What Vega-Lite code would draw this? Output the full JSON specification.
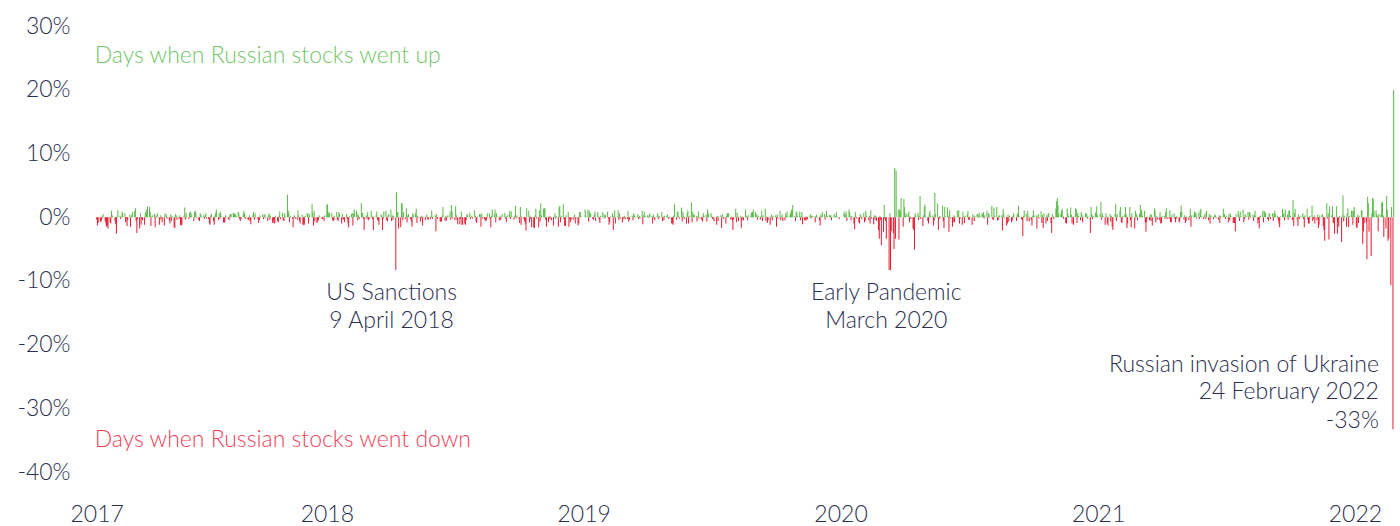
{
  "$schema": "https://vega.github.io/schema/vega-lite/v6.json",
  "width": 1330,
  "height": 446,
  "autosize": "none",
  "padding": {"left": 70, "top": 26, "right": 0, "bottom": 54},
  "background": "white",
  "config": {
    "view": {"stroke": null},
    "font": "Lato",
    "axis": {"grid": false, "domain": false, "ticks": false, "labelFont": "Lato", "labelFontWeight": 300, "labelColor": "#2c2f4f"},
    "axisX": {"labelFontSize": 23, "labelPadding": 49, "labelBaseline": "alphabetic", "labelFlush": true, "labelOverlap": false},
    "axisY": {"labelFontSize": 23, "labelPadding": 0}
  },
  "layer": [
    {
      "data": {
        "values": "d,v\n17063,-0.4\n17064,-1.3\n17065,-0.9\n17071,-0.6\n17072,-0.8\n17073,-0.5\n17074,0.2\n17075,0.5\n17081,-0.6\n17082,-1.0\n17083,-1.5\n17084,-1.3\n17085,-1.8\n17091,-0.8\n17092,-1.0\n17093,1.0\n17094,0.3\n17095,0.1\n17101,-0.6\n17102,-1.1\n17103,-2.6\n17104,0.2\n17105,1.1\n17111,0.2\n17112,-0.3\n17113,0.1\n17114,0.9\n17115,0.6\n17121,0.6\n17122,-0.8\n17123,-0.2\n17124,-1.4\n17125,-0.5\n17131,0.4\n17132,-1.5\n17133,0.1\n17134,0.4\n17135,0.8\n17141,1.0\n17142,1.4\n17143,-0.6\n17144,-2.5\n17145,-0.3\n17151,-1.8\n17152,0.6\n17153,-1.2\n17154,-0.2\n17155,-0.5\n17161,-1.2\n17162,0.6\n17163,0.9\n17164,1.2\n17165,1.7\n17171,1.6\n17172,0.8\n17173,-1.4\n17174,0.1\n17175,0.3\n17181,0.5\n17182,-1.6\n17183,0.3\n17184,-0.1\n17185,0.6\n17191,-1.2\n17192,-0.4\n17193,0.3\n17194,-0.2\n17195,-0.8\n17201,-1.3\n17202,0.6\n17203,0.1\n17204,0.4\n17205,-0.2\n17211,-0.5\n17212,-1.0\n17213,0.4\n17214,-0.6\n17215,0.2\n17221,-1.6\n17222,-1.7\n17223,0.5\n17224,0.3\n17225,-0.4\n17231,-0.3\n17232,0.3\n17233,-1.2\n17234,-1.3\n17235,-1.2\n17241,0.2\n17242,1.5\n17243,-0.4\n17244,0.7\n17245,0.1\n17251,-0.3\n17252,0.7\n17253,0.9\n17254,0.6\n17255,0.2\n17261,-0.6\n17262,0.9\n17263,1.0\n17264,0.6\n17265,-0.1\n17271,-0.4\n17272,-0.6\n17273,0.6\n17274,0.4\n17275,0.1\n17281,0.3\n17282,-0.3\n17283,0.3\n17284,0.6\n17285,-0.2\n17291,-0.3\n17292,-1.0\n17293,-1.2\n17294,0.3\n17295,0.5\n17301,-0.6\n17302,-1.2\n17303,0.3\n17304,0.7\n17305,1.2\n17311,-0.4\n17312,0.6\n17313,-0.3\n17314,0.9\n17315,0.2\n17321,-0.8\n17322,-0.9\n17323,-0.8\n17324,0.3\n17325,0.1\n17331,-0.3\n17332,-0.5\n17333,0.3\n17334,0.5\n17335,0.5\n17341,0.7\n17342,0.6\n17343,0.5\n17344,0.4\n17345,0.2\n17351,0.8\n17352,0.6\n17353,-0.3\n17354,-0.6\n17355,-0.3\n17361,0.4\n17362,1.0\n17363,0.6\n17364,-0.3\n17365,0.1\n17371,-0.4\n17372,-0.5\n17373,0.3\n17374,-0.6\n17375,-1.1\n17381,0.4\n17382,0.8\n17383,-0.4\n17384,0.6\n17385,0.1\n17391,-0.3\n17392,-0.9\n17393,-0.5\n17394,0.3\n17395,0.1\n17401,0.5\n17402,-0.3\n17403,0.3\n17404,0.5\n17405,-0.1\n17411,-0.6\n17412,0.3\n17413,0.6\n17414,-0.4\n17415,0.2\n17421,-0.9\n17422,-0.6\n17423,-0.9\n17424,-1.0\n17425,0.2\n17431,-0.6\n17432,-0.8\n17433,0.2\n17434,0.9\n17435,-0.3\n17441,0.7\n17442,-0.5\n17443,-0.6\n17444,0.6\n17445,0.1\n17451,3.5\n17452,0.6\n17453,1.0\n17454,-0.8\n17455,0.2\n17461,-0.2\n17462,-1.6\n17463,0.1\n17464,0.3\n17465,-0.3\n17471,-0.4\n17472,1.1\n17473,0.3\n17474,-0.6\n17475,-1.0\n17481,0.4\n17482,-1.2\n17483,-1.2\n17484,-1.2\n17485,0.2\n17491,0.6\n17492,0.6\n17493,-1.0\n17494,0.5\n17495,0.1\n17501,2.1\n17502,0.7\n17503,-1.3\n17504,1.0\n17505,-0.7\n17511,-0.9\n17512,-0.7\n17513,-0.5\n17514,0.3\n17515,0.1\n17521,-0.3\n17522,-0.3\n17523,0.1\n17524,-0.6\n17525,0.3\n18011,2.0\n18012,2.0\n18013,0.5\n18014,0.8\n18015,0.6\n18021,0.6\n18022,-0.4\n18023,-0.6\n18024,-0.5\n18025,0.2\n18031,0.8\n18032,-0.4\n18033,-0.6\n18034,0.8\n18035,0.5\n18041,-1.0\n18042,0.5\n18043,-0.4\n18044,-0.3\n18045,-0.8\n18051,0.5\n18052,-0.3\n18053,-1.0\n18054,-1.6\n18055,0.2\n18061,0.5\n18062,0.6\n18063,-1.3\n18064,0.6\n18065,1.2\n18071,1.0\n18072,0.6\n18073,-0.5\n18074,0.3\n18075,-0.3\n18081,2.2\n18082,0.7\n18083,0.7\n18084,-0.3\n18085,-2.0\n18091,0.3\n18092,-0.3\n18093,0.8\n18094,-0.5\n18095,-0.3\n18101,1.0\n18102,0.3\n18103,-0.3\n18104,-2.0\n18105,0.1\n18111,0.3\n18112,0.9\n18113,-0.4\n18114,-0.6\n18115,-1.2\n18121,0.4\n18122,0.3\n18123,-2.0\n18124,-0.3\n18125,0.9\n18131,1.0\n18132,-0.5\n18133,-0.7\n18134,0.3\n18135,0.5\n18141,1.2\n18142,-0.6\n18143,0.3\n18144,-0.4\n18145,0.2\n18151,-8.3\n18152,3.9\n18153,0.8\n18154,0.8\n18155,-1.8\n18161,-1.6\n18162,2.2\n18163,2.2\n18164,-0.5\n18165,0.8\n18171,-0.3\n18172,1.4\n18173,-0.8\n18174,0.3\n18175,0.5\n18181,-0.3\n18182,-0.7\n18183,-1.5\n18184,0.6\n18185,0.3\n18191,0.6\n18192,1.3\n18193,-0.9\n18194,0.2\n18195,-0.1\n18201,-0.7\n18202,0.2\n18203,-0.2\n18204,-1.3\n18205,0.1\n18211,-0.5\n18212,0.1\n18213,0.4\n18214,-0.2\n18215,-0.5\n18221,-0.3\n18222,0.2\n18223,1.1\n18224,-0.3\n18225,0.1\n18231,0.3\n18232,-2.2\n18233,0.5\n18234,-0.3\n18235,-0.1\n18241,-0.7\n18242,-0.7\n18243,-0.7\n18244,0.3\n18245,1.6\n18251,-0.6\n18252,0.2\n18253,-0.5\n18254,0.1\n18255,0.3\n18261,0.9\n18262,-0.4\n18263,1.9\n18264,0.9\n18265,-0.2\n18271,-0.5\n18272,1.7\n18273,0.3\n18274,-0.5\n18275,-1.1\n18281,-1.1\n18282,-0.3\n18283,0.9\n18284,-1.2\n18285,-1.2\n18291,-1.0\n18292,-1.2\n18293,-0.5\n18294,0.5\n18295,0.3\n18301,0.7\n18302,-0.3\n18303,0.1\n18304,0.2\n18305,-0.2\n18311,1.1\n18312,0.2\n18313,-0.7\n18314,-0.9\n18315,0.1\n18321,0.5\n18322,0.4\n18323,-1.5\n18324,0.6\n18325,-0.2\n18331,-0.3\n18332,-0.6\n18333,-0.5\n18334,-0.5\n18335,0.6\n18341,0.6\n18342,-0.3\n18343,-1.6\n18344,0.2\n18345,1.2\n18351,0.5\n18352,1.2\n18353,-0.8\n18354,0.6\n18355,0.1\n18361,-0.5\n18362,0.2\n18363,-0.5\n18364,-0.1\n18365,0.5\n18371,0.1\n18372,0.7\n18373,-0.2\n18374,-0.8\n18375,0.3\n18381,0.5\n18382,1.0\n18383,-0.3\n18384,0.9\n18385,0.1\n18391,-0.4\n18392,0.2\n18393,1.8\n18394,-0.2\n18395,0.3\n18401,-0.2\n18402,-0.9\n18403,1.6\n18404,-1.2\n18405,0.1\n18411,-0.3\n18412,-0.6\n18413,-1.0\n18414,-2.1\n18415,1.4\n18421,1.0\n18422,-0.8\n18423,0.2\n18424,-0.3\n18425,-1.6\n18431,-1.6\n18432,-1.7\n18433,0.3\n18434,1.3\n18435,-0.2\n18441,-1.6\n18442,1.1\n18443,-0.7\n18444,2.2\n18445,0.3\n18451,1.3\n18452,1.4\n18453,1.4\n18454,-0.4\n18455,-1.5\n18461,-0.8\n18462,0.2\n18463,-0.3\n18464,0.1\n18465,-0.5\n18471,-1.3\n18472,0.1\n18473,0.6\n18474,-0.2\n18475,0.2\n18481,-1.5\n18482,1.5\n18483,1.8\n18484,-0.8\n18485,0.2\n18491,2.0\n18492,-0.3\n18493,-1.4\n18494,-1.4\n18495,0.3\n18501,0.8\n18502,-1.5\n18503,-0.2\n18504,-0.8\n18505,-0.4\n18511,-0.4\n18512,0.1\n18513,0.4\n18514,-1.0\n18515,-0.2\n18521,-1.3\n18522,-1.0\n18523,0.8\n18524,0.8\n18525,0.2\n19004,1.2\n19005,0.3\n19011,1.2\n19012,-0.7\n19013,1.0\n19014,0.7\n19015,0.5\n19021,-0.3\n19022,-0.4\n19023,0.5\n19024,0.9\n19025,-0.6\n19031,0.8\n19032,0.1\n19033,-0.4\n19034,-0.9\n19035,0.2\n19041,0.8\n19042,0.1\n19043,0.5\n19044,-0.2\n19045,0.3\n19051,0.9\n19052,-0.2\n19053,-1.2\n19054,-0.8\n19055,0.1\n19061,0.6\n19062,-2.0\n19063,0.2\n19064,1.1\n19065,-1.0\n19071,0.1\n19072,1.1\n19073,-0.5\n19074,0.6\n19075,-0.2\n19081,-0.8\n19082,0.1\n19083,-0.3\n19084,0.2\n19085,-0.3\n19091,-0.3\n19092,1.0\n19093,-0.7\n19094,-0.4\n19095,0.1\n19101,0.2\n19102,-0.5\n19103,0.6\n19104,0.3\n19105,-0.1\n19111,0.1\n19112,0.5\n19113,-0.3\n19114,0.2\n19115,-0.2\n19121,1.0\n19122,-1.1\n19123,0.3\n19124,0.9\n19125,0.2\n19131,0.1\n19132,0.3\n19133,-0.1\n19134,0.3\n19135,0.6\n19141,0.2\n19142,-1.0\n19143,0.4\n19144,-0.1\n19145,-0.5\n19151,0.1\n19152,0.6\n19153,-0.3\n19154,0.2\n19155,-0.1\n19161,0.8\n19162,-0.6\n19163,0.1\n19164,-0.5\n19165,0.2\n19171,0.2\n19172,0.4\n19173,-0.1\n19174,-0.3\n19175,0.1\n19181,-1.0\n19182,-1.0\n19183,-1.2\n19184,0.2\n19185,2.1\n19191,-0.4\n19192,0.9\n19193,0.8\n19194,0.1\n19195,-0.2\n19201,1.5\n19202,-0.7\n19203,0.9\n19204,0.2\n19205,-0.3\n19211,-1.0\n19212,0.7\n19213,1.1\n19214,-1.0\n19215,0.2\n19221,2.3\n19222,-0.8\n19223,0.9\n19224,0.4\n19225,0.4\n19231,0.2\n19232,-0.7\n19233,0.1\n19234,0.9\n19235,-0.2\n19241,-0.4\n19242,0.1\n19243,-0.7\n19244,0.6\n19245,0.2\n19251,0.4\n19252,-0.7\n19253,1.2\n19254,0.6\n19255,0.1\n19261,0.6\n19262,0.2\n19263,-0.3\n19264,-0.1\n19265,-0.6\n19271,0.1\n19272,-1.2\n19273,0.2\n19274,-0.6\n19275,0.1\n19281,0.3\n19282,-1.7\n19283,0.5\n19284,0.1\n19285,-0.3\n19291,-1.0\n19292,0.2\n19293,0.6\n19294,0.6\n19295,0.6\n19301,-0.4\n19302,0.1\n19303,-0.4\n19304,-2.0\n19305,-0.4\n19311,1.3\n19312,-0.8\n19313,0.7\n19314,0.2\n19315,-0.6\n19321,0.2\n19322,-1.7\n19323,-0.5\n19324,0.1\n19325,-0.5\n19331,1.2\n19332,0.2\n19333,-0.1\n19334,-0.5\n19335,0.3\n19341,0.1\n19342,0.6\n19343,0.8\n19344,0.8\n19345,1.2\n19351,0.8\n19352,0.1\n19353,0.5\n19354,-0.4\n19355,0.2\n19361,-0.4\n19362,0.2\n19363,1.0\n19364,-0.6\n19365,0.3\n19371,1.3\n19372,-0.6\n19373,0.1\n19374,-0.9\n19375,-0.5\n19381,-1.2\n19382,0.1\n19383,0.4\n19384,-0.5\n19385,0.2\n19391,0.1\n19392,0.3\n19393,-1.5\n19394,0.4\n19395,-0.2\n19401,1.0\n19402,-0.5\n19403,0.1\n19404,0.4\n19405,-0.6\n19411,-0.5\n19412,0.6\n19413,0.2\n19414,0.9\n19415,0.1\n19421,0.3\n19422,0.7\n19423,1.1\n19424,1.2\n19425,1.9\n19431,0.2\n19432,-0.6\n19433,0.9\n19434,0.7\n19435,0.1\n19441,0.9\n19442,-0.5\n19443,0.2\n19444,0.8\n19445,-1.1\n19451,-0.5\n19452,-0.5\n19453,0.1\n19454,-0.5\n19455,-0.3\n19461,0.1\n19462,0.5\n19463,-0.2\n19464,0.2\n19465,0.2\n19471,0.1\n19472,-0.8\n19473,0.2\n19474,0.4\n19475,-0.1\n19481,-0.5\n19482,-1.3\n19483,0.4\n19484,0.1\n19485,0.8\n19491,0.5\n19492,-0.4\n19493,0.1\n19494,1.0\n19495,0.2\n19501,0.3\n19502,0.3\n19503,0.3\n19504,-0.5\n19505,0.1\n19511,0.5\n19512,0.2\n19513,-0.1\n19514,0.8\n19515,0.1\n19521,-0.3\n20011,0.9\n20012,0.5\n20013,0.3\n20014,0.9\n20015,-0.6\n20021,1.2\n20022,0.8\n20023,0.1\n20024,-0.5\n20025,0.2\n20031,-1.0\n20032,-1.9\n20033,0.8\n20034,0.1\n20035,-0.2\n20041,-0.8\n20042,-1.0\n20043,0.5\n20044,0.2\n20045,-0.3\n20051,0.7\n20052,-0.8\n20053,-0.6\n20054,1.0\n20055,0.2\n20061,-0.5\n20062,0.2\n20063,-1.0\n20064,1.1\n20065,-0.2\n20071,-1.1\n20072,0.3\n20073,-0.4\n20074,0.2\n20075,-0.6\n20081,-2.0\n20082,-3.4\n20083,0.2\n20084,-0.5\n20085,-4.4\n20091,-2.3\n20092,1.9\n20093,-0.3\n20094,-0.6\n20095,-3.4\n20102,-8.3\n20103,0.6\n20104,-8.3\n20105,-2.2\n20111,-2.5\n20112,-5.0\n20113,7.7\n20114,-3.4\n20115,7.3\n20121,1.2\n20122,-3.5\n20123,1.2\n20124,0.8\n20125,3.0\n20131,-1.5\n20132,2.9\n20133,1.6\n20134,0.2\n20135,0.6\n20141,0.5\n20142,0.9\n20143,-0.8\n20144,0.1\n20145,-0.3\n20151,-1.8\n20152,-2.0\n20153,-5.1\n20154,0.6\n20155,0.2\n20161,0.7\n20162,-0.5\n20163,0.2\n20164,3.3\n20165,-0.3\n20171,-1.4\n20172,0.3\n20173,1.6\n20174,2.0\n20175,0.1\n20181,-0.6\n20182,-1.0\n20183,0.6\n20184,1.0\n20185,0.2\n20191,0.3\n20192,-1.3\n20193,-0.6\n20194,3.8\n20195,0.5\n20201,2.1\n20202,-2.0\n20203,-0.3\n20204,0.2\n20205,-0.1\n20211,1.8\n20212,-0.6\n20213,-1.7\n20214,1.6\n20215,0.1\n20221,1.5\n20222,0.2\n20223,-2.3\n20224,1.1\n20225,-0.2\n20231,-1.5\n20232,-0.8\n20233,0.3\n20234,-0.8\n20235,0.1\n20241,1.0\n20242,0.2\n20243,1.1\n20244,-1.0\n20245,-0.2\n20251,-1.2\n20252,0.9\n20253,0.1\n20254,-0.9\n20255,0.2\n20261,0.4\n20262,1.0\n20263,-0.4\n20264,-0.4\n20265,0.1\n20271,-1.2\n20272,0.5\n20273,0.1\n20274,-0.6\n20275,0.2\n20281,0.5\n20282,0.5\n20283,-0.1\n20284,0.7\n20285,0.2\n20291,0.6\n20292,0.5\n20293,0.8\n20294,-0.2\n20295,0.3\n20301,1.0\n20302,-1.2\n20303,0.6\n20304,0.5\n20305,-0.1\n20311,1.8\n20312,-0.3\n20313,-0.5\n20314,1.5\n20315,0.2\n20321,1.6\n20322,-0.5\n20323,-0.5\n20324,0.2\n20325,0.3\n20331,0.3\n20332,-2.1\n20333,1.3\n20334,0.6\n20335,-0.1\n20341,-1.3\n20342,-1.0\n20343,0.4\n20344,-0.7\n20345,0.2\n20351,-0.8\n20352,-0.5\n20353,0.2\n20354,0.6\n20355,-0.1\n20361,-0.6\n20362,0.5\n20363,0.6\n20364,1.8\n20365,0.1\n20371,-0.3\n20372,-0.5\n20373,-3.0\n20374,0.2\n20375,1.1\n20381,0.5\n20382,-0.6\n20383,1.0\n20384,0.1\n20385,-0.7\n20391,-0.4\n20392,-1.3\n20393,0.2\n20394,1.1\n20395,0.3\n20401,0.3\n20402,-1.8\n20403,0.1\n20404,0.5\n20405,-0.2\n20411,0.9\n20412,-0.9\n20413,0.3\n20414,-1.7\n20415,0.6\n20421,-1.0\n20422,0.3\n20423,-0.6\n20424,0.6\n20425,0.6\n20431,-0.9\n20432,-2.5\n20433,0.5\n20434,0.1\n20435,-0.3\n20441,1.4\n20442,2.5\n20443,3.0\n20444,1.9\n20445,0.6\n20451,0.5\n20452,1.0\n20453,1.3\n20454,0.2\n20455,-0.3\n20461,-0.9\n20462,-1.0\n20463,1.4\n20464,0.6\n20465,0.2\n20471,1.5\n20472,0.4\n20473,-1.0\n20474,0.1\n20475,-1.2\n20481,1.4\n20482,1.2\n20483,-0.9\n20484,0.7\n20485,0.2\n20491,-0.5\n20492,0.8\n20493,0.5\n20494,-0.8\n20495,0.1\n20501,0.6\n20502,0.6\n20503,0.4\n20504,-0.2\n20505,0.1\n20511,-2.5\n20512,1.6\n20513,0.5\n20514,-0.3\n20515,0.2\n20521,0.6\n20522,0.8\n20523,1.7\n20524,0.3\n21011,0.5\n21012,2.4\n21013,-0.4\n21014,0.6\n21015,0.2\n21021,-1.2\n21022,0.6\n21023,0.1\n21024,-1.0\n21025,-1.3\n21031,0.5\n21032,-0.7\n21033,0.2\n21034,-1.5\n21035,-2.0\n21041,0.5\n21042,2.1\n21043,-0.6\n21044,0.5\n21045,0.1\n21051,1.0\n21052,1.6\n21053,-0.8\n21054,-0.9\n21055,0.2\n21061,0.4\n21062,1.6\n21063,0.4\n21064,-1.7\n21065,-1.0\n21071,1.6\n21072,-0.5\n21073,-1.6\n21074,0.6\n21075,0.1\n21081,-1.8\n21082,1.0\n21083,0.6\n21084,0.3\n21085,-0.5\n21091,0.5\n21092,1.9\n21093,0.9\n21094,1.2\n21095,0.2\n21101,1.0\n21102,-0.8\n21103,-2.3\n21104,-0.8\n21105,0.1\n21111,-0.5\n21112,0.4\n21113,-0.6\n21114,0.4\n21115,-1.3\n21121,1.4\n21122,1.0\n21123,-0.8\n21124,0.1\n21125,-0.4\n21131,-0.5\n21132,0.8\n21133,-1.0\n21134,-0.9\n21135,0.2\n21141,0.2\n21142,-0.3\n21143,0.8\n21144,1.4\n21145,-0.3\n21151,-0.3\n21152,1.1\n21153,-0.8\n21154,-0.8\n21155,0.4\n21161,0.6\n21162,-0.3\n21163,-0.8\n21164,-0.3\n21165,0.2\n21171,-0.8\n21172,-0.7\n21173,0.8\n21174,1.8\n21175,0.8\n21181,-0.4\n21182,0.3\n21183,-0.9\n21184,-0.6\n21185,0.1\n21191,-0.5\n21192,0.2\n21193,1.3\n21194,-1.5\n21195,0.3\n21201,0.3\n21202,0.9\n21203,0.7\n21204,0.7\n21205,-0.2\n21211,0.7\n21212,-0.3\n21213,1.1\n21214,1.3\n21215,0.1\n21221,-0.3\n21222,0.3\n21223,0.6\n21224,-0.3\n21225,1.0\n21231,-0.5\n21232,0.5\n21233,-1.0\n21234,0.3\n21235,0.1\n21241,-0.3\n21242,0.2\n21243,0.4\n21244,0.3\n21245,-0.1\n21251,-0.4\n21252,0.3\n21253,-0.9\n21254,0.2\n21255,0.1\n21261,1.3\n21262,0.5\n21263,0.4\n21264,-0.3\n21265,0.2\n21271,-0.8\n21272,0.6\n21273,-0.5\n21274,0.5\n21275,0.1\n21281,-0.9\n21282,-0.9\n21283,-0.9\n21284,-2.2\n21285,0.5\n21291,1.0\n21292,0.4\n21293,-0.6\n21294,0.9\n21295,0.1\n21301,1.2\n21302,-0.8\n21303,-0.3\n21304,0.5\n21305,0.2\n21311,0.8\n21312,-0.4\n21313,0.8\n21314,0.6\n21315,-0.1\n21321,0.4\n21322,-0.6\n21323,0.3\n21324,1.0\n21325,0.2\n21331,-1.0\n21332,-0.4\n21333,-1.8\n21334,0.2\n21335,0.2\n21341,1.0\n21342,-0.8\n21343,1.0\n21344,0.8\n21345,0.6\n21351,-0.3\n21352,-0.6\n21353,0.6\n21354,0.5\n21355,-0.3\n21361,0.6\n21362,-0.6\n21363,0.6\n21364,1.0\n21365,0.4\n21371,0.2\n21372,-0.5\n21373,-1.0\n21374,-1.6\n21375,0.1\n21381,1.3\n21382,0.5\n21383,0.6\n21384,-0.5\n21385,1.2\n21391,0.4\n21392,-0.4\n21393,1.0\n21394,1.1\n21395,0.2\n21401,-0.5\n21402,2.7\n21403,-1.4\n21404,0.6\n21405,1.3\n21411,-0.4\n21412,-1.4\n21413,0.4\n21414,-0.3\n21415,0.2\n21421,0.3\n21422,0.6\n21423,-0.3\n21424,-1.6\n21425,0.3\n21431,1.3\n21432,-0.4\n21433,-1.0\n21434,-1.0\n21435,0.2\n21441,1.8\n21442,-0.6\n21443,-0.3\n21444,0.3\n21445,-1.0\n21451,-0.5\n21452,0.4\n21453,-1.7\n21454,-1.2\n21455,0.3\n21461,0.3\n21462,0.5\n21463,-1.4\n21464,-2.0\n21465,-3.7\n21471,2.2\n21472,-0.2\n21473,0.6\n21474,-3.5\n21475,1.7\n21481,0.3\n21482,1.7\n21483,-0.8\n21484,-1.0\n21485,-2.6\n21491,1.7\n21492,-2.6\n21493,-0.8\n21494,-1.5\n21495,0.2\n21501,-3.9\n21502,0.3\n21503,3.4\n21504,-0.7\n21505,0.2\n21511,-1.5\n21512,0.6\n21513,1.4\n21514,-1.6\n21515,0.2\n21521,1.0\n21522,1.0\n21523,-1.2\n21524,1.0\n21525,1.6\n22011,-1.5\n22012,-1.7\n22013,0.4\n22014,-0.9\n22015,0.2\n22021,1.1\n22022,1.1\n22023,-4.2\n22024,-2.2\n22025,-1.0\n22031,-0.8\n22032,-6.6\n22033,3.2\n22034,2.2\n22035,-2.3\n22041,-6.1\n22042,0.6\n22043,3.0\n22044,2.9\n22045,1.0\n22051,1.1\n22052,0.4\n22053,0.2\n22054,-2.2\n22055,0.5\n22061,0.4\n22062,2.3\n22063,2.4\n22064,0.3\n22065,-3.1\n22071,-1.8\n22072,3.3\n22073,1.2\n22074,-3.7\n22075,-3.3\n22081,-10.7\n22082,1.6\n22084,-33.3\n22085,20.0",
        "format": {"type": "csv", "parse": {"d": "date:'%y%W%u'", "v": "number"}}
      },
      "mark": {"type": "bar", "width": 1},
      "encoding": {
        "x": {
          "field": "d",
          "type": "temporal",
          "title": null,
          "scale": {"domain": [{"year": 2017, "month": 1, "date": 1}, {"year": 2022, "month": 3, "date": 6}], "padding": 0, "nice": false},
          "axis": {
            "values": [{"year": 2017, "month": 1, "date": 1}, {"year": 2018, "month": 1, "date": 1}, {"year": 2019, "month": 1, "date": 1}, {"year": 2020, "month": 1, "date": 1}, {"year": 2021, "month": 1, "date": 1}, {"year": 2022, "month": 1, "date": 1}],
            "format": "%Y"
          }
        },
        "y": {
          "field": "v",
          "type": "quantitative",
          "title": null,
          "scale": {"domain": [-40, 30], "nice": false, "zero": true},
          "axis": {
            "values": [-40, -30, -20, -10, 0, 10, 20, 30],
            "labelExpr": "datum.value + '%'"
          }
        },
        "color": {"condition": {"test": "datum.v >= 0", "value": "#58b947"}, "value": "#e8192e"}
      }
    },
    {
      "data": {
        "values": [
          {"d": "2018-04-03", "v": -13.0, "t": "US Sanctions"},
          {"d": "2018-04-03", "v": -17.45, "t": "9 April 2018"},
          {"d": "2020-03-06", "v": -13.0, "t": "Early Pandemic"},
          {"d": "2020-03-06", "v": -17.45, "t": "March 2020"}
        ],
        "format": {"parse": {"d": "date:'%Y-%m-%d'"}}
      },
      "mark": {"type": "text", "align": "center", "baseline": "alphabetic", "font": "Lato", "fontSize": 23, "fontWeight": 300, "color": "#2c2f4f"},
      "encoding": {
        "x": {"field": "d", "type": "temporal", "title": null},
        "y": {"field": "v", "type": "quantitative", "title": null},
        "text": {"field": "t", "type": "nominal"}
      }
    },
    {
      "data": {
        "values": [
          {"d": "2022-02-04", "v": -24.27, "t": "Russian invasion of Ukraine"},
          {"d": "2022-02-04", "v": -28.6, "t": "24 February 2022"},
          {"d": "2022-02-04", "v": -33.15, "t": "-33%"}
        ],
        "format": {"parse": {"d": "date:'%Y-%m-%d'"}}
      },
      "mark": {"type": "text", "align": "right", "baseline": "alphabetic", "font": "Lato", "fontSize": 23, "fontWeight": 300, "color": "#2c2f4f"},
      "encoding": {
        "x": {"field": "d", "type": "temporal", "title": null},
        "y": {"field": "v", "type": "quantitative", "title": null},
        "text": {"field": "t", "type": "nominal"}
      }
    },
    {
      "data": {
        "values": [
          {"d": "2017-02-05", "v": 24.23, "t": "Days when Russian stocks went up"}
        ],
        "format": {"parse": {"d": "date:'%Y-%m-%d'"}}
      },
      "mark": {"type": "text", "align": "left", "baseline": "alphabetic", "font": "Lato", "fontSize": 23, "fontWeight": 300, "color": "#72c66a"},
      "encoding": {
        "x": {"field": "d", "type": "temporal", "title": null},
        "y": {"field": "v", "type": "quantitative", "title": null},
        "text": {"field": "t", "type": "nominal"}
      }
    },
    {
      "data": {
        "values": [
          {"d": "2017-02-05", "v": -36.04, "t": "Days when Russian stocks went down"}
        ],
        "format": {"parse": {"d": "date:'%Y-%m-%d'"}}
      },
      "mark": {"type": "text", "align": "left", "baseline": "alphabetic", "font": "Lato", "fontSize": 23, "fontWeight": 300, "color": "#f0435b"},
      "encoding": {
        "x": {"field": "d", "type": "temporal", "title": null},
        "y": {"field": "v", "type": "quantitative", "title": null},
        "text": {"field": "t", "type": "nominal"}
      }
    }
  ]
}
